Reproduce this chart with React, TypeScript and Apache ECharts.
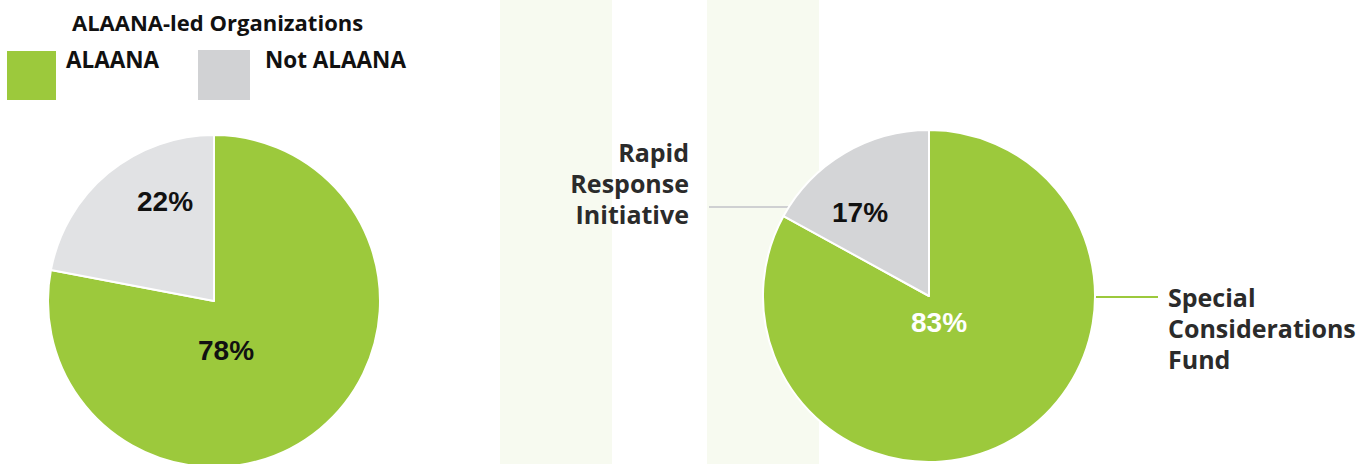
import React, { useEffect, useRef } from "react";
import * as echarts from "echarts";

const GREEN = "#9cc93c";
const LEGEND_TITLE = "ALAANA-led Organizations";
const leftCategories = ["ALAANA", "Not ALAANA"];
const leftValues = [78, 22];
const rightCategories = ["Special Considerations Fund", "Rapid Response Initiative"];
const rightLabels = ["Special\nConsiderations\nFund", "Rapid\nResponse\nInitiative"];
const rightValues = [83, 17];

export default function App() {
  const ref = useRef<HTMLDivElement>(null);
  useEffect(() => {
    document.body.style.margin = "0";
    const chart = echarts.init(ref.current!, null, { renderer: "svg" });
    const labelFont = "'Open Sans', Lato, sans-serif";
    const pctFont = "'Liberation Sans', Arial, sans-serif";
    const pct = (v: number) => `${v}%`;
    chart.setOption({
      animation: false,
      backgroundColor: "#ffffff",
      graphic: [
        { type: "rect", z: -10, shape: { x: 500, y: 0, width: 112, height: 464 }, style: { fill: "#f7faf0" } },
        { type: "rect", z: -10, shape: { x: 707, y: 0, width: 112, height: 464 }, style: { fill: "#f7faf0" } },
        { type: "text", x: 72, y: 22, style: { text: LEGEND_TITLE, fill: "#111", font: `bold 22px ${labelFont}`, textVerticalAlign: "middle" } },
        { type: "rect", shape: { x: 7, y: 51, width: 49, height: 49 }, style: { fill: GREEN } },
        { type: "text", x: 66, y: 59, style: { text: leftCategories[0], fill: "#111", font: `bold 22.5px ${labelFont}`, textVerticalAlign: "middle" } },
        { type: "rect", shape: { x: 198, y: 50, width: 52, height: 50 }, style: { fill: "#d1d2d4" } },
        { type: "text", x: 265, y: 59, style: { text: leftCategories[1], fill: "#111", font: `bold 22.5px ${labelFont}`, textVerticalAlign: "middle" } },
        { type: "text", x: 165, y: 201, z: 10, style: { text: pct(leftValues[1]), fill: "#111", font: `bold 28px ${pctFont}`, textAlign: "center", textVerticalAlign: "middle" } },
        { type: "text", x: 226, y: 350, z: 10, style: { text: pct(leftValues[0]), fill: "#111", font: `bold 28px ${pctFont}`, textAlign: "center", textVerticalAlign: "middle" } },
        { type: "text", x: 860, y: 212, z: 10, style: { text: pct(rightValues[1]), fill: "#111", font: `bold 28px ${pctFont}`, textAlign: "center", textVerticalAlign: "middle" } },
        { type: "text", x: 939, y: 322, z: 10, style: { text: pct(rightValues[0]), fill: "#ffffff", font: `bold 28px ${pctFont}`, textAlign: "center", textVerticalAlign: "middle" } },
        { type: "line", shape: { x1: 709, y1: 207, x2: 790, y2: 207 }, style: { stroke: "#cfd0d2", lineWidth: 2 } },
        { type: "line", shape: { x1: 1094, y1: 297, x2: 1158, y2: 297 }, style: { stroke: GREEN, lineWidth: 2 } },
        { type: "text", x: 689, y: 136, style: { text: rightLabels[1], fill: "#2b2b2b", font: `bold 25px ${labelFont}`, lineHeight: 31, textAlign: "right", textVerticalAlign: "top" } },
        { type: "text", x: 1168, y: 281, style: { text: rightLabels[0], fill: "#2b2b2b", font: `bold 25px ${labelFont}`, lineHeight: 31, textAlign: "left", textVerticalAlign: "top" } },
      ],
      series: [
        {
          type: "pie",
          center: [214, 301],
          radius: [0, 166],
          startAngle: 90,
          clockwise: true,
          label: { show: false },
          labelLine: { show: false },
          emphasis: { disabled: true },
          itemStyle: { borderColor: "#ffffff", borderWidth: 2 },
          data: leftCategories.map((n, i) => ({ name: n, value: leftValues[i], itemStyle: { color: i === 0 ? GREEN : "#e1e2e4" } })),
        },
        {
          type: "pie",
          center: [929, 296],
          radius: [0, 166],
          startAngle: 90,
          clockwise: true,
          label: { show: false },
          labelLine: { show: false },
          emphasis: { disabled: true },
          itemStyle: { borderColor: "#ffffff", borderWidth: 2 },
          data: rightCategories.map((n, i) => ({ name: n, value: rightValues[i], itemStyle: { color: i === 0 ? GREEN : "#d4d5d7" } })),
        },
      ],
    });
    return () => chart.dispose();
  }, []);
  return <div ref={ref} style={{ width: 1372, height: 464 }} />;
}
